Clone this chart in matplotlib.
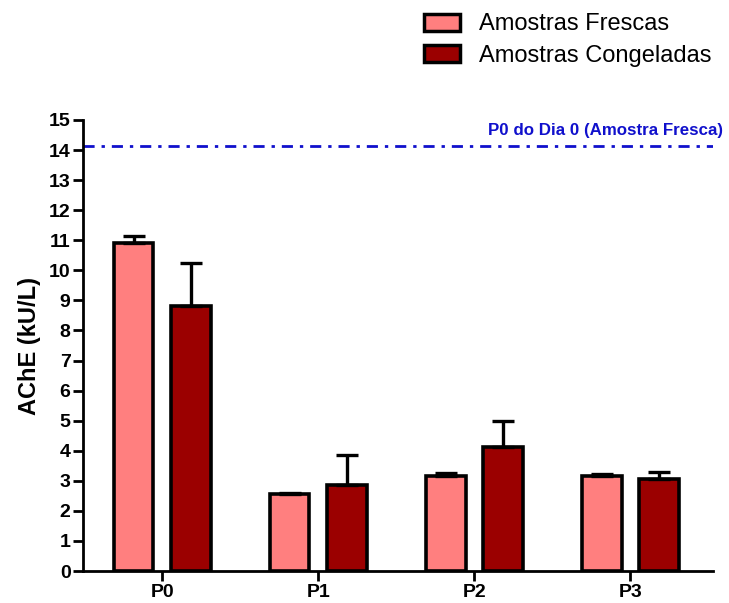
import numpy as np
import matplotlib.pyplot as plt
from matplotlib.patches import Patch

plt.rcParams['font.family'] = ['Liberation Sans', 'DejaVu Sans']

groups = ['P0', 'P1', 'P2', 'P3']
fresh = [10.9, 2.57, 3.17, 3.17]
fresh_err = [0.23, 0.03, 0.08, 0.05]
frozen = [8.8, 2.87, 4.13, 3.07]
frozen_err = [1.43, 1.0, 0.87, 0.23]
ref_day0 = 14.15

fresh_color = '#FF7F7F'
frozen_color = '#9B0000'

fig = plt.figure(figsize=(7.29, 6.03), dpi=100)
ax = fig.add_axes([0.114, 0.053, 0.864, 0.748])

x = np.arange(len(groups))
w = 0.255
off = 0.183
err_kw = dict(elinewidth=2.4, capthick=2.4, capsize=8, ecolor='black')

ax.bar(x - off, fresh, w, color=fresh_color, edgecolor='black', linewidth=2.6,
       yerr=[np.zeros(4), fresh_err], error_kw=err_kw, zorder=3)
ax.bar(x + off, frozen, w, color=frozen_color, edgecolor='black', linewidth=2.6,
       yerr=[np.zeros(4), frozen_err], error_kw=err_kw, zorder=3)

ax.axhline(ref_day0, color='#1010CC', linewidth=2, linestyle=(0, (4, 2.5, 1.2, 2.5)), zorder=2)
ax.text(3.595, ref_day0 + 0.25, 'P0 do Dia 0 (Amostra Fresca)', color='#1010CC',
        fontsize=12.2, fontweight='bold', ha='right', va='bottom', clip_on=False)

ax.set_xlim(-0.506, 3.53)
ax.set_ylim(0, 15)
ax.set_yticks(range(0, 16))
ax.set_xticks(x)
ax.set_xticklabels(groups)
for lab in ax.get_xticklabels() + ax.get_yticklabels():
    lab.set_fontweight('bold')
    lab.set_fontsize(14)
ax.tick_params(axis='both', width=2, length=7, direction='out', pad=2)
ax.set_ylabel('AChE (kU/L)', fontsize=17, fontweight='bold', labelpad=6)

ax.spines['top'].set_visible(False)
ax.spines['right'].set_visible(False)
ax.spines['left'].set_linewidth(2)
ax.spines['bottom'].set_linewidth(2)

handles = [Patch(facecolor=fresh_color, edgecolor='black', linewidth=2.5),
           Patch(facecolor=frozen_color, edgecolor='black', linewidth=2.5)]
fig.legend(handles, ['Amostras Frescas', 'Amostras Congeladas'],
           loc='upper left', bbox_to_anchor=(0.553, 1.013), frameon=False,
           fontsize=17, handlelength=1.5, handleheight=0.75, labelspacing=0.4,
           handletextpad=0.8)

fig.savefig('out.png', dpi=100)
